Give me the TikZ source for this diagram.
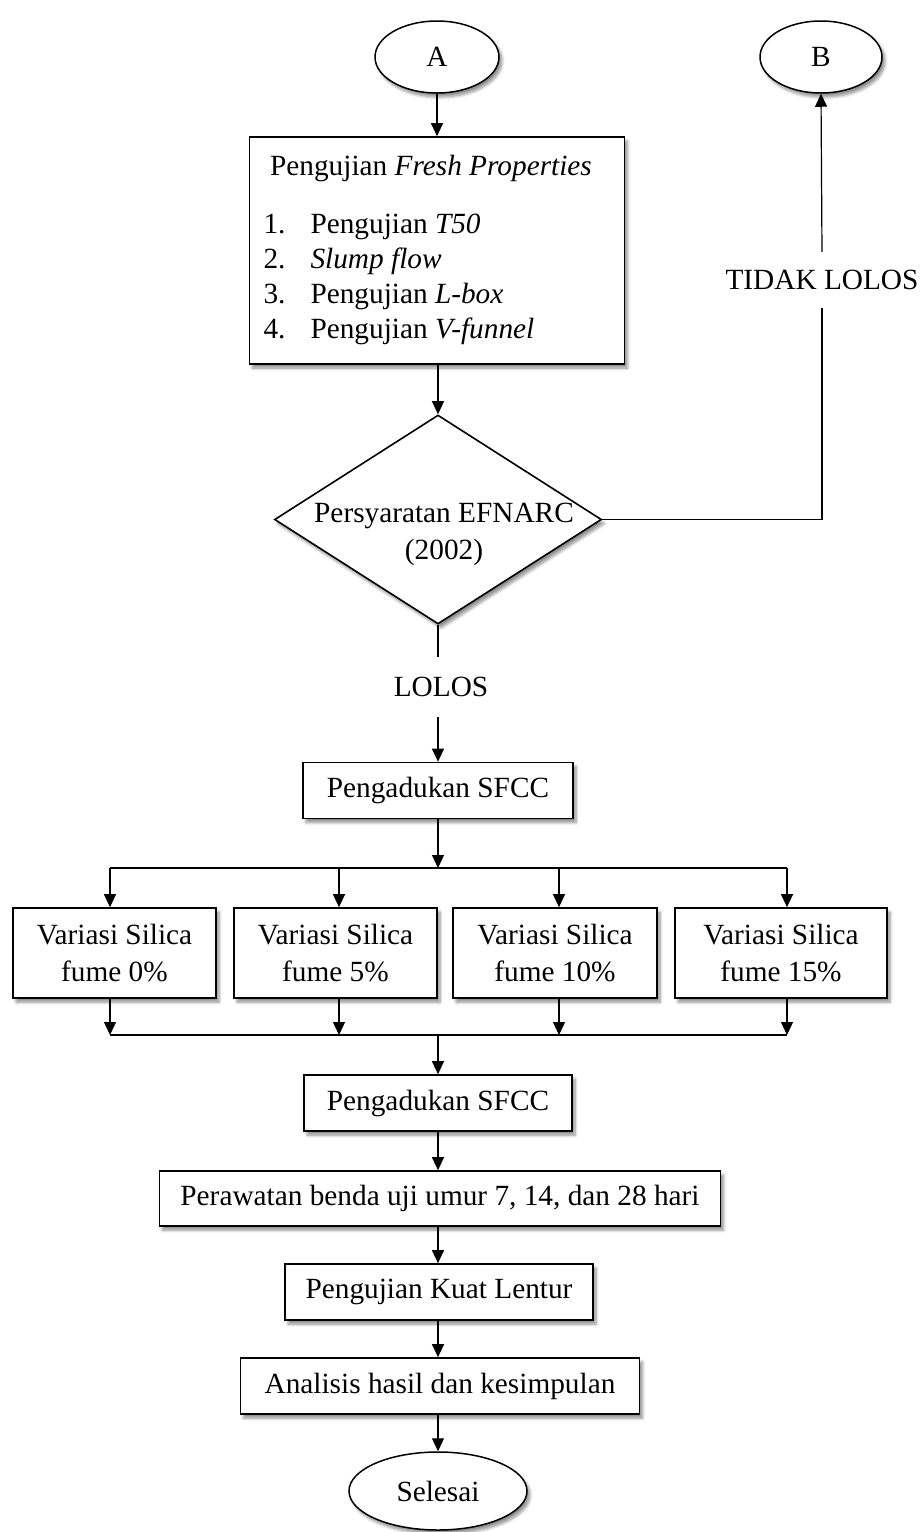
\documentclass[tikz,border=0pt]{standalone}
\usepackage{fontspec}
\setmainfont{Liberation Serif}
\usetikzlibrary{shapes.geometric,arrows.meta,shadows.blur}

\tikzset{
  soft/.style={blur shadow={shadow xshift=3pt,shadow yshift=-4pt,shadow blur radius=3pt,shadow blur steps=6,shadow opacity=45}},
  box/.style={draw,rectangle,line width=1.7pt,fill=white,inner sep=0pt,minimum height=56pt,soft},
  term/.style={draw,ellipse,line width=1.5pt,fill=white,inner sep=0pt,soft},
  arr/.style={line width=1.2pt,-{Triangle[length=13pt,width=12pt]}},
  link/.style={line width=1.2pt}
}

\begin{document}
\begin{tikzpicture}[x=1pt,y=1pt,font=\fontsize{29.3}{35}\selectfont]
\useasboundingbox (0,0) rectangle (924,-1532);

\node[term,minimum width=124pt,minimum height=72pt] (A) at (437,-57) {A};
\node[term,minimum width=122pt,minimum height=72pt] (B) at (821,-57) {B};

\node[box,minimum width=375pt,minimum height=227pt] (fresh) at (437,-250.5) {};
\node[anchor=base] (freshtitle) at (431,-175) {Pengujian \textit{Fresh Properties}};
\node[anchor=base west] (item1) at (260,-233) {\makebox[47pt][l]{1.}Pengujian \textit{T50}};
\node[anchor=base west] (item2) at (260,-268) {\makebox[47pt][l]{2.}\textit{Slump flow}};
\node[anchor=base west] (item3) at (260,-303) {\makebox[47pt][l]{3.}Pengujian \textit{L-box}};
\node[anchor=base west] (item4) at (260,-338) {\makebox[47pt][l]{4.}Pengujian \textit{V-funnel}};

\node[diamond,draw,fill=white,line width=1.6pt,inner sep=0pt,minimum width=327pt,minimum height=209pt,soft] (cond) at (438,-519.5) {};
\node[align=center,font=\fontsize{29.3}{37}\selectfont] (condtext) at (444,-534) {Persyaratan EFNARC\\(2002)};

\node[inner sep=0pt,minimum height=60pt] (lolos) at (441,-687) {LOLOS};
\node[inner sep=0pt,minimum height=56pt] (fail) at (822,-280) {TIDAK LOLOS};

\node[box,minimum width=270pt] (mix1) at (438,-790.5) {Pengadukan SFCC};

\coordinate (split) at (438,-868);
\coordinate (t0) at (110,-868);
\coordinate (t5) at (339,-868);
\coordinate (t10) at (559,-868);
\coordinate (t15) at (787,-868);

\node[box,minimum width=203pt,minimum height=90pt,align=center,font=\fontsize{29.3}{37}\selectfont] (v0) at (114.5,-953) {Variasi Silica\\fume 0\%};
\node[box,minimum width=203pt,minimum height=90pt,align=center,font=\fontsize{29.3}{37}\selectfont] (v5) at (335.5,-953) {Variasi Silica\\fume 5\%};
\node[box,minimum width=204pt,minimum height=90pt,align=center,font=\fontsize{29.3}{37}\selectfont] (v10) at (555,-953) {Variasi Silica\\fume 10\%};
\node[box,minimum width=212pt,minimum height=90pt,align=center,font=\fontsize{29.3}{37}\selectfont] (v15) at (781,-953) {Variasi Silica\\fume 15\%};

\coordinate (join) at (438,-1035);
\coordinate (j0) at (110,-1035);
\coordinate (j5) at (339,-1035);
\coordinate (j10) at (559,-1035);
\coordinate (j15) at (787,-1035);

\node[box,minimum width=268pt] (mix2) at (438,-1103) {Pengadukan SFCC};
\node[box,minimum width=561pt,minimum height=55pt] (cure) at (440,-1198.5) {Perawatan benda uji umur 7, 14, dan 28 hari};
\node[box,minimum width=308pt] (flex) at (439,-1292) {Pengujian Kuat Lentur};
\node[box,minimum width=399pt] (result) at (440,-1386) {Analisis hasil dan kesimpulan};
\node[term,minimum width=178pt,minimum height=78pt] (finish) at (438,-1491) {Selesai};

% connectors
\draw[arr] (A.south) -- (A.south |- fresh.north);
\draw[arr] (fresh.south -| cond.north) -- (cond.north);
\draw[link] (cond.east) -- (cond.east -| fail.south) -- (fail.south);
\draw[arr] (fail.north) -- (B.south);
\draw[link] (cond.south) -- (cond.south |- lolos.north);
\draw[arr] (cond.south |- lolos.south) -- (cond.south |- mix1.north);
\draw[arr] (mix1.south -| split) -- (split);
\draw[link] (t0) -- (t15);
\draw[arr] (t0) -- (t0 |- v0.north);
\draw[arr] (t5) -- (t5 |- v5.north);
\draw[arr] (t10) -- (t10 |- v10.north);
\draw[arr] (t15) -- (t15 |- v15.north);
\draw[arr] (j0 |- v0.south) -- (j0);
\draw[arr] (j5 |- v5.south) -- (j5);
\draw[arr] (j10 |- v10.south) -- (j10);
\draw[arr] (j15 |- v15.south) -- (j15);
\draw[link] (j0) -- (j15);
\draw[arr] (join) -- (join |- mix2.north);
\draw[arr] (mix2.south) -- (mix2.south |- cure.north);
\draw[arr] (mix2.south |- cure.south) -- (mix2.south |- flex.north);
\draw[arr] (mix2.south |- flex.south) -- (mix2.south |- result.north);
\draw[arr] (mix2.south |- result.south) -- (mix2.south |- finish.north);

\end{tikzpicture}
\end{document}
